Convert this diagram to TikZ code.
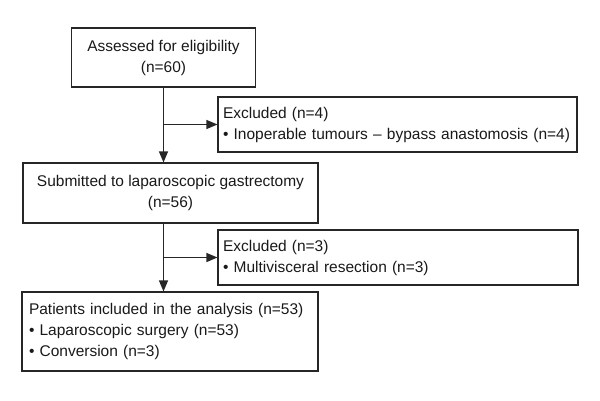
\documentclass[tikz,border=0pt]{standalone}
\usepackage{fontspec}
\setmainfont{Liberation Sans}
\usetikzlibrary{arrows.meta}

\tikzset{
Stage/.style={draw=black!85, line width=1.1pt, inner xsep=7pt, inner ysep=0pt,
        font=\fontsize{15.5}{21}\selectfont, text=black!90},
Centred/.style={Stage, align=center},
Listed/.style={Stage, align=left},
FlowLine/.style={arrows={-{Triangle[length=11pt,width=9pt]}},draw=black!85,line width=1.1pt},
}

\begin{document}
\begin{tikzpicture}[x=1pt,y=-1pt]
	\useasboundingbox (0,0) rectangle (600,400);
	\node[Centred, minimum width=184pt, minimum height=59pt] (assessed) at (163.5,57.5)
		{Assessed for eligibility\\(n=60)};
	\node[Listed, inner xsep=5pt, text width=349pt, minimum height=55pt] (excl1) at (397.5,124.5)
		{Excluded (n=4)\\\textbullet\ Inoperable tumours -- bypass anastomosis (n=4)};
	\node[Centred, minimum width=295pt, minimum height=60pt] (submitted) at (170.5,193)
		{Submitted to laparoscopic gastrectomy\\(n=56)};
	\node[Listed, inner xsep=5pt, text width=350pt, minimum height=55pt] (excl2) at (398,257.5)
		{Excluded (n=3)\\\textbullet\ Multivisceral resection (n=3)};
	\node[Listed, text width=282pt, minimum height=79pt] (patients) at (170,331.5)
		{Patients included in the analysis (n=53)\\\textbullet\ Laparoscopic surgery (n=53)\\\textbullet\ Conversion (n=3)};

	\foreach \src/\dest/\out in {assessed/submitted/excl1, submitted/patients/excl2}{
		\draw[FlowLine] (assessed.south |- \src.south) -- (assessed.south |- \dest.north);
		\draw[FlowLine] (assessed.south |- \out.west) -- (\out.west);
	}
\end{tikzpicture}
\end{document}
